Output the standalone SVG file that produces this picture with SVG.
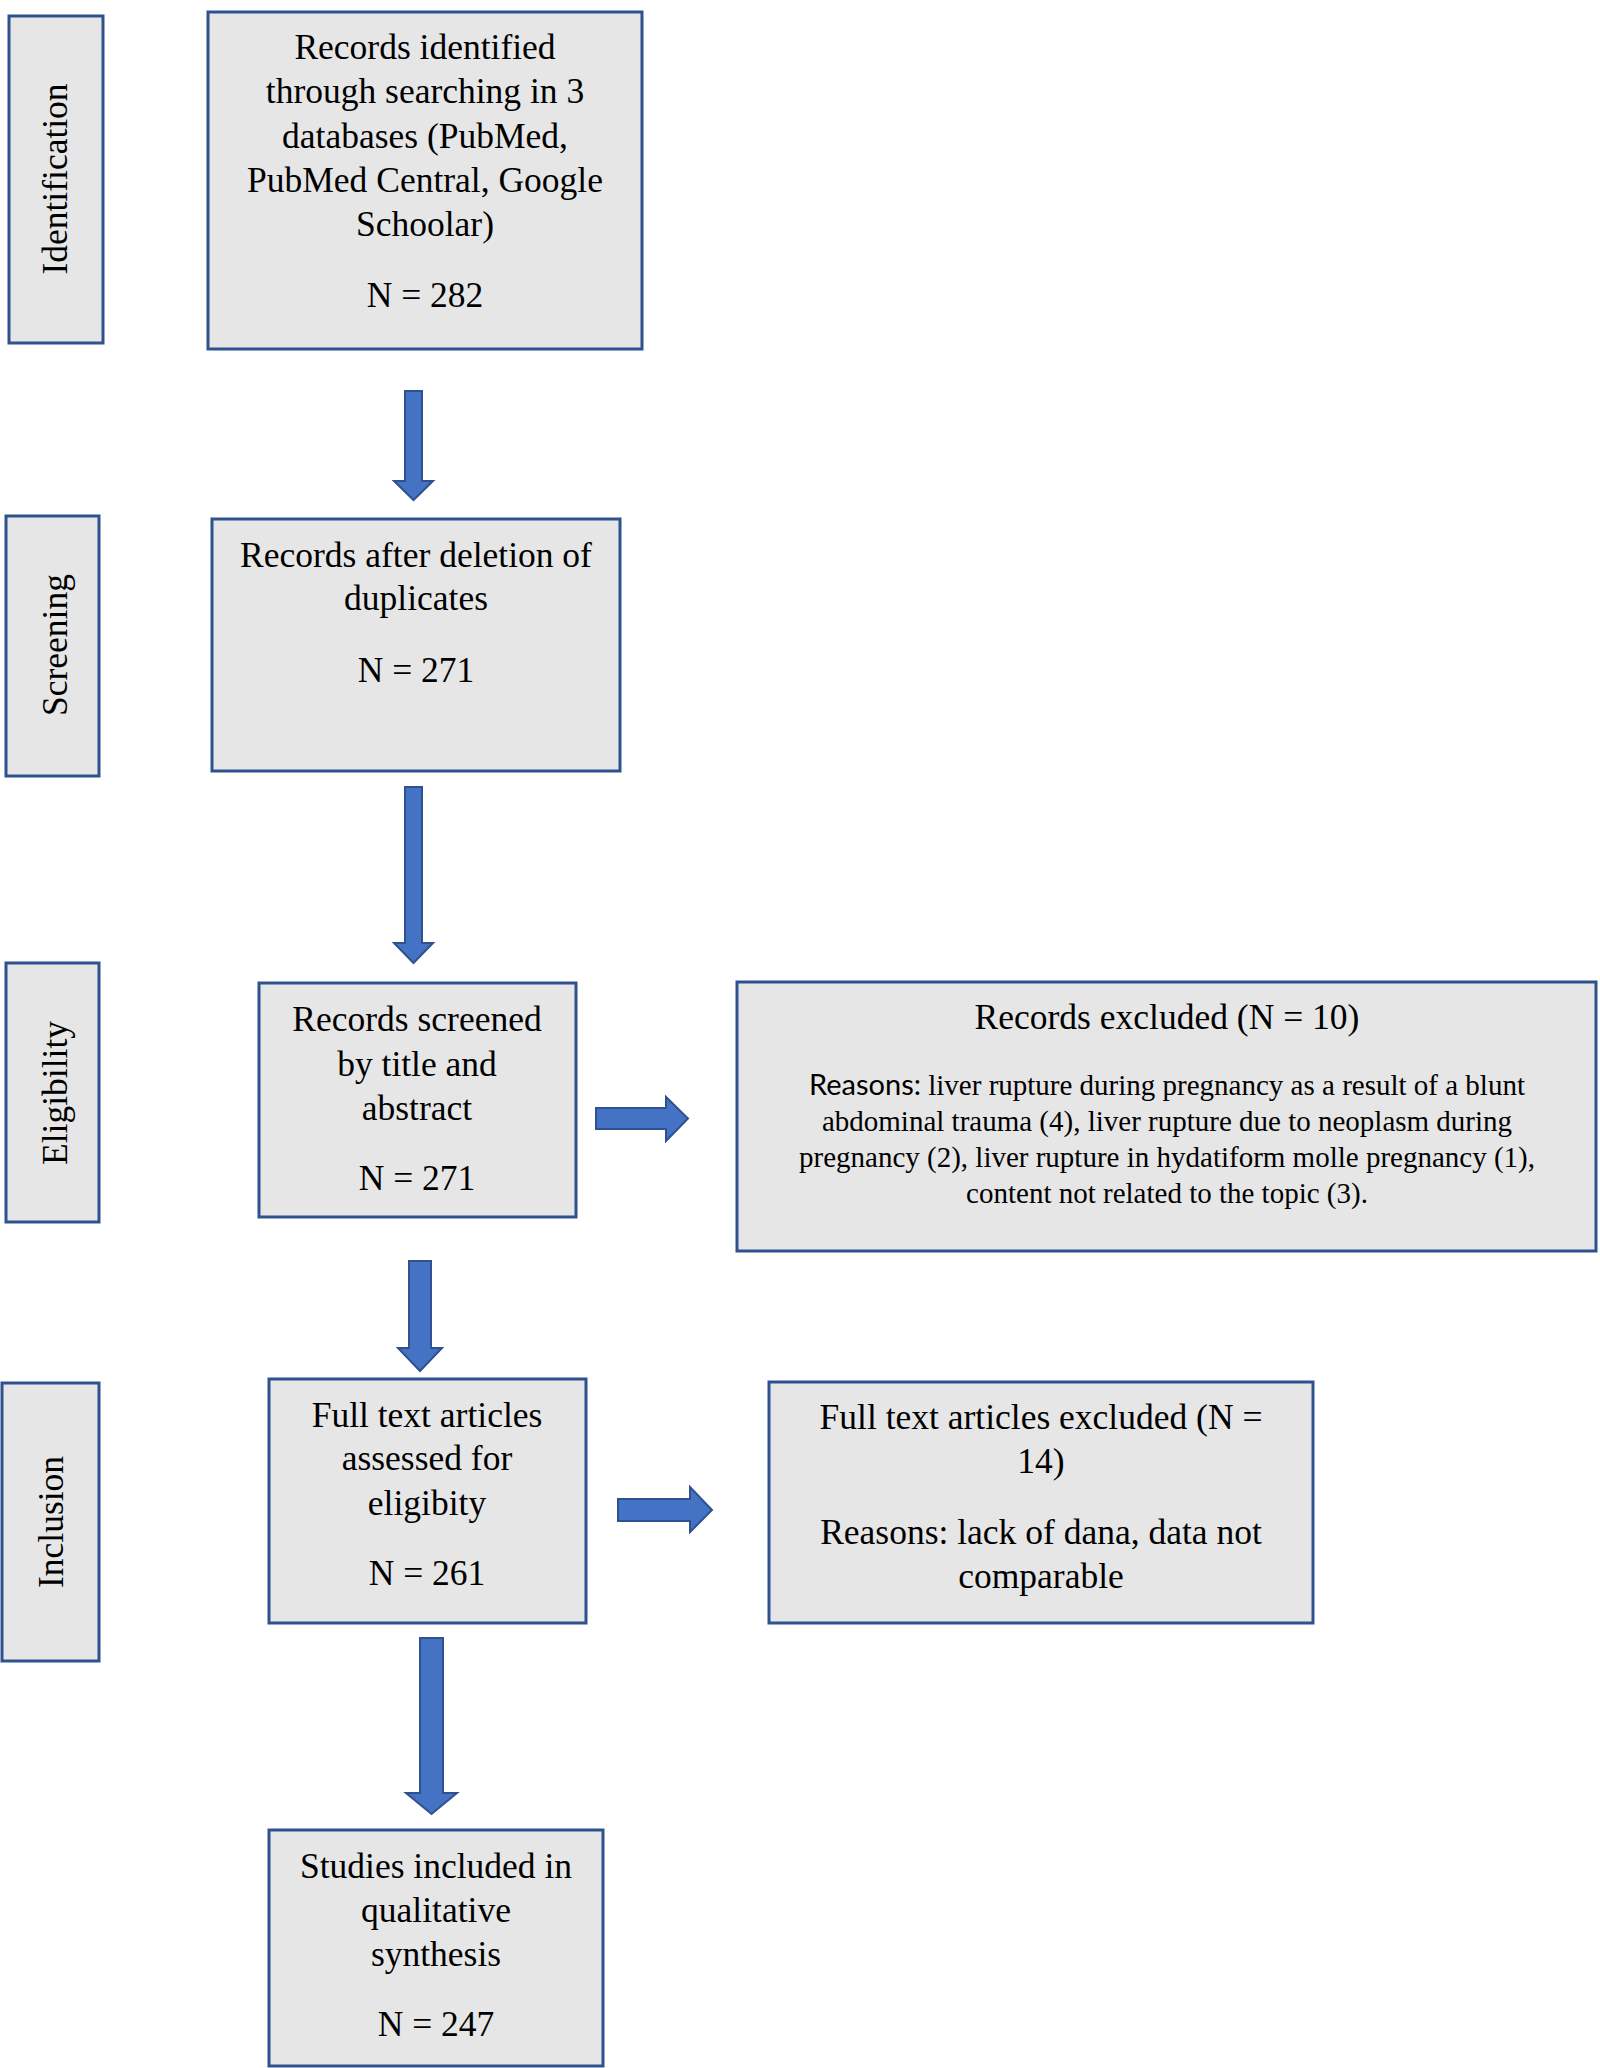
<svg xmlns="http://www.w3.org/2000/svg" width="1600" height="2068" viewBox="0 0 1600 2068">
<style>
.box{fill:#E6E6E6;stroke:#2F528F;stroke-width:3}
.t{font-family:"Liberation Serif","Times New Roman",serif;font-size:35.5px;fill:#000;text-anchor:middle}
.s{font-size:29px}
.sans{font-family:Lato,"Liberation Sans",sans-serif}
.arr{fill:#4472C4;stroke:#2F528F;stroke-width:2}
</style>
<rect width="1600" height="2068" fill="#fff"/>
<g id="label-identification">
<rect class="box" x="9" y="16" width="94" height="327"/>
<text class="t" transform="translate(67,179) rotate(-90)">Identification</text>
</g>
<g id="label-screening">
<rect class="box" x="6" y="516" width="93" height="260"/>
<text class="t" transform="translate(67,645) rotate(-90)">Screening</text>
</g>
<g id="label-eligibility">
<rect class="box" x="6" y="963" width="93" height="259"/>
<text class="t" transform="translate(67,1093) rotate(-90)">Eligibility</text>
</g>
<g id="label-inclusion">
<rect class="box" x="2" y="1383" width="97" height="278"/>
<text class="t" transform="translate(63,1522) rotate(-90)">Inclusion</text>
</g>
<g id="node-identified">
<rect class="box" x="208" y="12" width="434" height="337"/>
<text class="t" x="425" y="59">Records identified</text>
<text class="t" x="425" y="103">through searching in 3</text>
<text class="t" x="425" y="148">databases (PubMed,</text>
<text class="t" x="425" y="192">PubMed Central, Google</text>
<text class="t" x="425" y="236">Schoolar)</text>
<text class="t" x="425" y="307">N = 282</text>
</g>
<g id="node-dedup">
<rect class="box" x="212" y="519" width="408" height="252"/>
<text class="t" x="416" y="567">Records after deletion of</text>
<text class="t" x="416" y="610">duplicates</text>
<text class="t" x="416" y="682">N = 271</text>
</g>
<g id="node-screened">
<rect class="box" x="259" y="983" width="317" height="234"/>
<text class="t" x="417" y="1031">Records screened</text>
<text class="t" x="417" y="1076">by title and</text>
<text class="t" x="417" y="1120">abstract</text>
<text class="t" x="417" y="1190">N = 271</text>
</g>
<g id="node-excluded">
<rect class="box" x="737" y="982" width="859" height="269"/>
<text class="t" x="1167" y="1029">Records excluded (N = 10)</text>
<text class="t s" x="1167" y="1095"><tspan class="sans">Reasons:</tspan> liver rupture during pregnancy as a result of a blunt</text>
<text class="t s" x="1167" y="1131">abdominal trauma (4), liver rupture due to neoplasm during</text>
<text class="t s" x="1167" y="1167">pregnancy (2), liver rupture in hydatiform molle pregnancy (1),</text>
<text class="t s" x="1167" y="1203">content not related to the topic (3).</text>
</g>
<g id="node-fulltext">
<rect class="box" x="269" y="1379" width="317" height="244"/>
<text class="t" x="427" y="1427">Full text articles</text>
<text class="t" x="427" y="1470">assessed for</text>
<text class="t" x="427" y="1515">eligibity</text>
<text class="t" x="427" y="1585">N = 261</text>
</g>
<g id="node-fulltext-excluded">
<rect class="box" x="769" y="1382" width="544" height="241"/>
<text class="t" x="1041" y="1429">Full text articles excluded (N =</text>
<text class="t" x="1041" y="1473">14)</text>
<text class="t" x="1041" y="1544">Reasons: lack of dana, data not</text>
<text class="t" x="1041" y="1588">comparable</text>
</g>
<g id="node-included">
<rect class="box" x="269" y="1830" width="334" height="236"/>
<text class="t" x="436" y="1878">Studies included in</text>
<text class="t" x="436" y="1922">qualitative</text>
<text class="t" x="436" y="1966">synthesis</text>
<text class="t" x="436" y="2036">N = 247</text>
</g>
<g id="connectors">
<polygon class="arr" points="405,391 422,391 422,481 433,481 413.5,500 394,481 405,481"/>
<polygon class="arr" points="405,787 422,787 422,943 433,943 413.5,963 394,943 405,943"/>
<polygon class="arr" points="409,1261 431,1261 431,1348 442,1348 420,1371 398,1348 409,1348"/>
<polygon class="arr" points="420,1638 443,1638 443,1793 457,1793 431.5,1814 406,1793 420,1793"/>
<polygon class="arr" points="596,1108 666,1108 666,1097 688,1118.5 666,1141 666,1129 596,1129"/>
<polygon class="arr" points="618,1499 690,1499 690,1487 712,1510 690,1532 690,1521 618,1521"/>
</g>
</svg>
